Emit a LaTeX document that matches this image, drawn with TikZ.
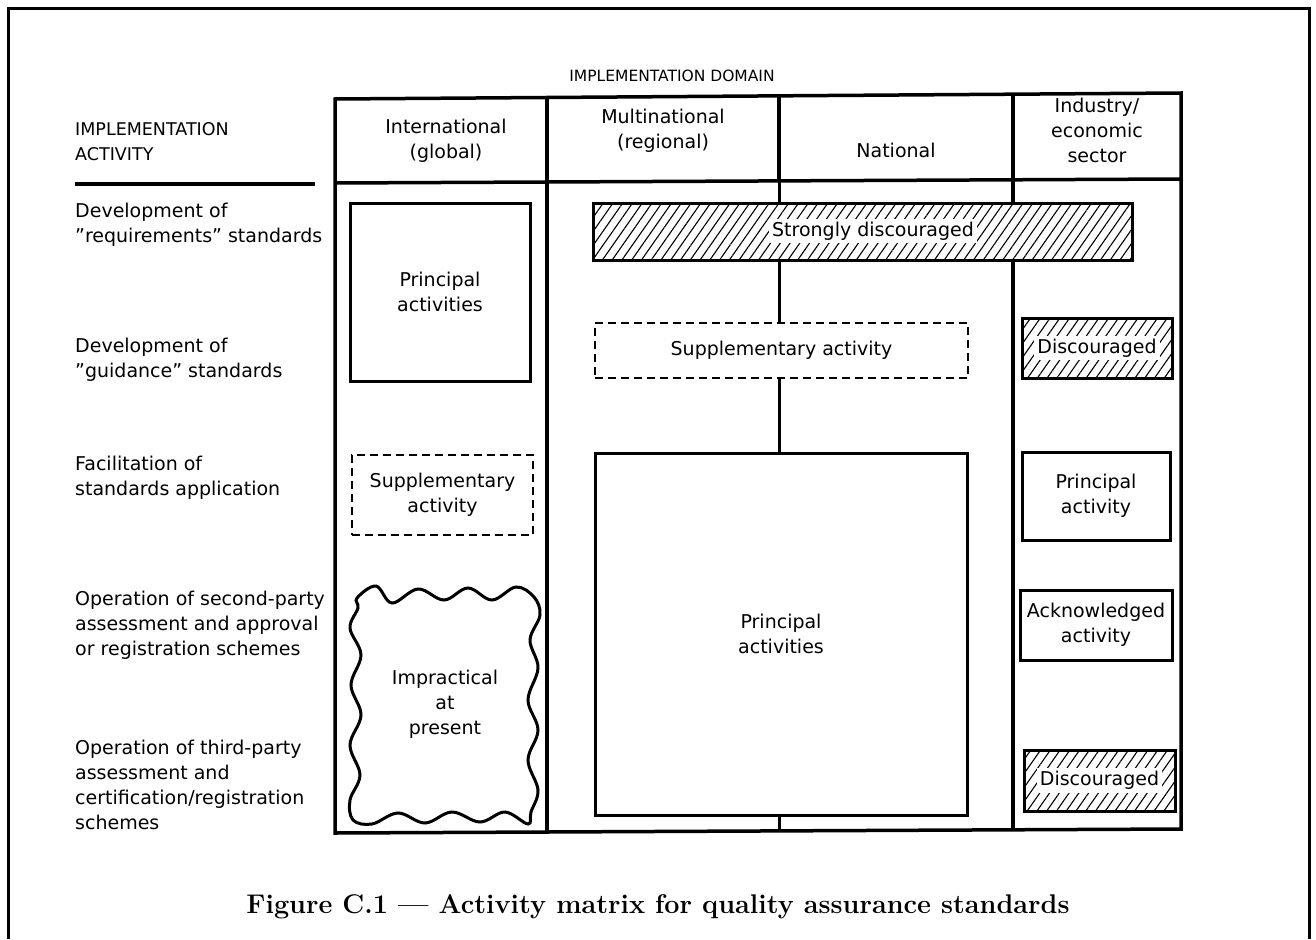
\documentclass[tikz,border=0pt]{standalone}
\usepackage{fontspec}
\setsansfont{DejaVu Sans}
\usetikzlibrary{patterns.meta}
\begin{document}
\begin{tikzpicture}[x=1pt,y=-1pt,
  every node/.style={font=\sffamily\fontsize{19}{25}\selectfont, align=center, inner sep=0pt},
  capstyle/.style={font=\sffamily\fontsize{15.5}{25}\selectfont},
  grid/.style={line width=3.5pt},
  frameline/.style={line width=3pt},
  solidbox/.style={draw, line width=3pt},
  dashbox/.style={draw, line width=2pt, dash pattern=on 8pt off 5pt},
  hatchbox/.style={draw, line width=3pt, fill=white, postaction={pattern={Lines[angle=55,distance=8pt,line width=1.1pt]}}},
  onhatch/.style={fill=white, inner xsep=3pt, inner ysep=3pt},
  rowlabel/.style={anchor=west, align=left},
  conn/.style={line width=3pt}]
\useasboundingbox (0,0) rectangle (1316,939);
% outer frame (open at the bottom)
\draw[frameline] (8.5,939) -- (8.5,8.5) -- (1309,8.5) -- (1309,939);
% title of the domain
\node[capstyle] (dom) at (672,76) {IMPLEMENTATION DOMAIN};
% matrix grid (slightly tilted, as in the scan)
\coordinate (mTL) at (335,99);
\coordinate (mTR) at (1181,93);
\coordinate (mBR) at (1181,829);
\coordinate (mBL) at (335,833);
\draw[grid] (mTL) -- (mTR) -- (mBR) -- (mBL) -- cycle;
\draw[grid] (335,183) -- (1181,179);
\draw[grid] (547,97.5) -- (547,832);
\draw[grid] (1013,94.2) -- (1013,829.8);
\draw[grid] (779,95.9) -- (779,181);
% left header
\node[capstyle, font=\sffamily\fontsize{17.5}{25}\selectfont, rowlabel] (ia) at (75,142) {IMPLEMENTATION\\ACTIVITY};
\draw[line width=4.5pt] (75,184) -- (315,184);
% column headers
\node (hInt) at (446,141) {International\\(global)};
\node (hMul) at (663,131) {Multinational\\(regional)};
\node (hNat) at (896,150) {National};
\node (hInd) at (1097,130) {Industry/\\economic\\sector};
% row labels
\node[rowlabel] (r1) at (75,225) {Development of\\”requirements” standards};
\node[rowlabel] (r2) at (75,360) {Development of\\”guidance” standards};
\node[rowlabel] (r3) at (75,478) {Facilitation of\\standards application};
\node[rowlabel] (r4) at (75,625) {Operation of second-party\\assessment and approval\\or registration schemes};
\node[rowlabel] (r5) at (75,785) {Operation of third-party\\assessment and\\certification/registration\\schemes};
% International column
\node[solidbox, minimum width=180pt, minimum height=178pt] (intP) at (440,292) {Principal\\activities};
\node[dashbox, minimum width=181pt, minimum height=80pt] (intS) at (442.5,495) {Supplementary\\activity};
\draw[line width=3pt] plot[smooth cycle, tension=0.6] coordinates {
 (357,598) (376,586) (392,603) (418,589) (444,600) (468,588) (492,600) (516,587) (534,597)
 (540,615) (530,640) (538,668) (528,700) (538,730) (528,760) (538,790) (531,812)
 (528,824) (505,812) (480,822) (452,812) (425,823) (398,813) (372,824) (353,820)
 (350,800) (360,775) (350,745) (361,715) (351,685) (361,655) (350,628) (358,608)};
\node (impr) at (445,704) {Impractical\\at\\present};
% Multinational / National columns
\node[hatchbox, minimum width=539pt, minimum height=57pt] (SD) at (862.5,231.5) {};
\node[onhatch] (SDt) at (873,231) {Strongly discouraged};
\node[dashbox, minimum width=373pt, minimum height=55pt] (supM) at (781.5,350.5) {Supplementary activity};
\node[solidbox, minimum width=372pt, minimum height=362pt] (bigP) at (781,634) {Principal\\activities};
\coordinate (c1) at (779,181);
\coordinate (c2) at (779,831);
\draw[conn] (c1) -- (SD.north -| c1);
\draw[conn] (SD.south -| c1) -- (supM.north -| c1);
\draw[conn] (supM.south -| c1) -- (bigP.north -| c1);
\draw[conn] (bigP.south -| c1) -- (c2);
% Industry column
\node[hatchbox, minimum width=150pt, minimum height=60pt] (disc1) at (1097,348) {};
\node[onhatch] (disc1t) at (1097,348) {Discouraged};
\node[solidbox, minimum width=148pt, minimum height=88pt] (indP) at (1096,496) {Principal\\activity};
\node[solidbox, minimum width=152pt, minimum height=70pt] (indA) at (1096,625) {Acknowledged\\activity};
\node[hatchbox, minimum width=151pt, minimum height=61pt] (disc2) at (1099.5,780.5) {};
\node[onhatch] (disc2t) at (1099.5,780.5) {Discouraged};
% caption
\node[font=\rmfamily\bfseries\fontsize{27}{32}\selectfont] (cap) at (658,907) {Figure C.1 --- Activity matrix for quality assurance standards};
\end{tikzpicture}
\end{document}
